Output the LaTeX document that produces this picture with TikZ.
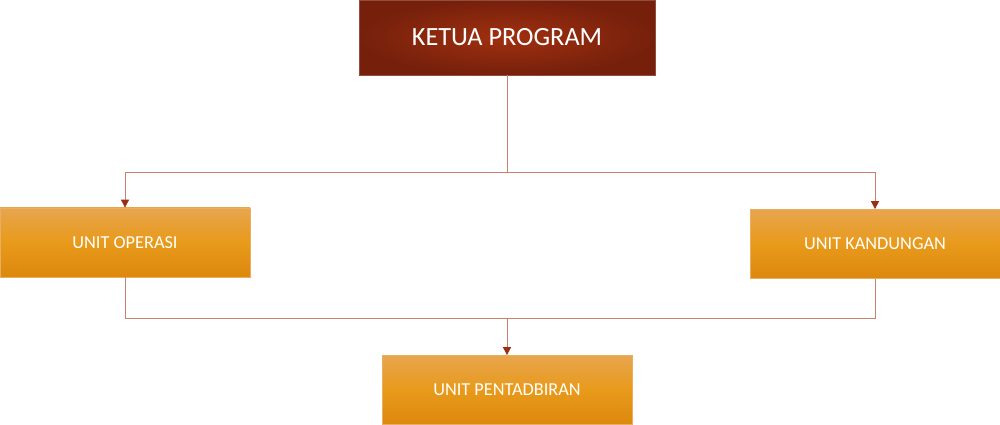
\documentclass[tikz,border=0pt]{standalone}
\usepackage{fontspec}
\setmainfont{Carlito}
\usepackage{tikz}
\usetikzlibrary{positioning, arrows.meta, calc}

\definecolor{ketuain}{HTML}{A0300F}
\definecolor{ketuaout}{HTML}{76200C}
\definecolor{unittop}{HTML}{E8A54E}
\definecolor{unitmid}{HTML}{E89A1A}
\definecolor{unitbot}{HTML}{DC880E}
\definecolor{linkline}{HTML}{C9806C}
\definecolor{tipred}{HTML}{9A2E14}

\begin{document}
\begin{tikzpicture}[
            ketua/.style={rectangle, draw=ketuaout!80, inner color=ketuain, outer color=ketuaout, minimum width=7.4cm, minimum height=1.875cm, text=white, font=\fontsize{18.7}{22}\selectfont},
            unit/.style={rectangle, draw=unittop!90, top color=unittop, bottom color=unitbot, middle color=unitmid, minimum width=6.25cm, minimum height=1.73cm, text=white, font=\fontsize{13}{15}\selectfont},
            link_line/.style={draw=linkline, line width=0.6pt},
            link_arrow/.style={-{Triangle[width=2mm, length=2mm, color=tipred]}, draw=linkline, line width=0.6pt}
            ]

            \useasboundingbox (0,0) rectangle (25,10.625);

            % Head
            \node[ketua] (ketua) at (12.675,9.69) {KETUA PROGRAM};

            % Units
            \node[unit] (operasi) at (3.125,4.5625) {UNIT OPERASI};
            \node[unit] (kandungan) at (21.875,4.525) {UNIT KANDUNGAN};
            \node[unit] (pentadbiran) at (12.675,0.875) {UNIT PENTADBIRAN};

            % Junctions
            \coordinate (split) at (ketua.south |- 0,6.325);
            \coordinate (join) at (ketua.south |- 0,2.675);

            % Connectors
            \draw[link_line] (ketua.south) -- (split);
            \draw[link_arrow] (split) -| (operasi.north);
            \draw[link_arrow] (split) -| (kandungan.north);

            \draw[link_line] (operasi.south) |- (join);
            \draw[link_line] (kandungan.south) |- (join);
            \draw[link_arrow] (join) -- (pentadbiran.north);

        \end{tikzpicture}
\end{document}
